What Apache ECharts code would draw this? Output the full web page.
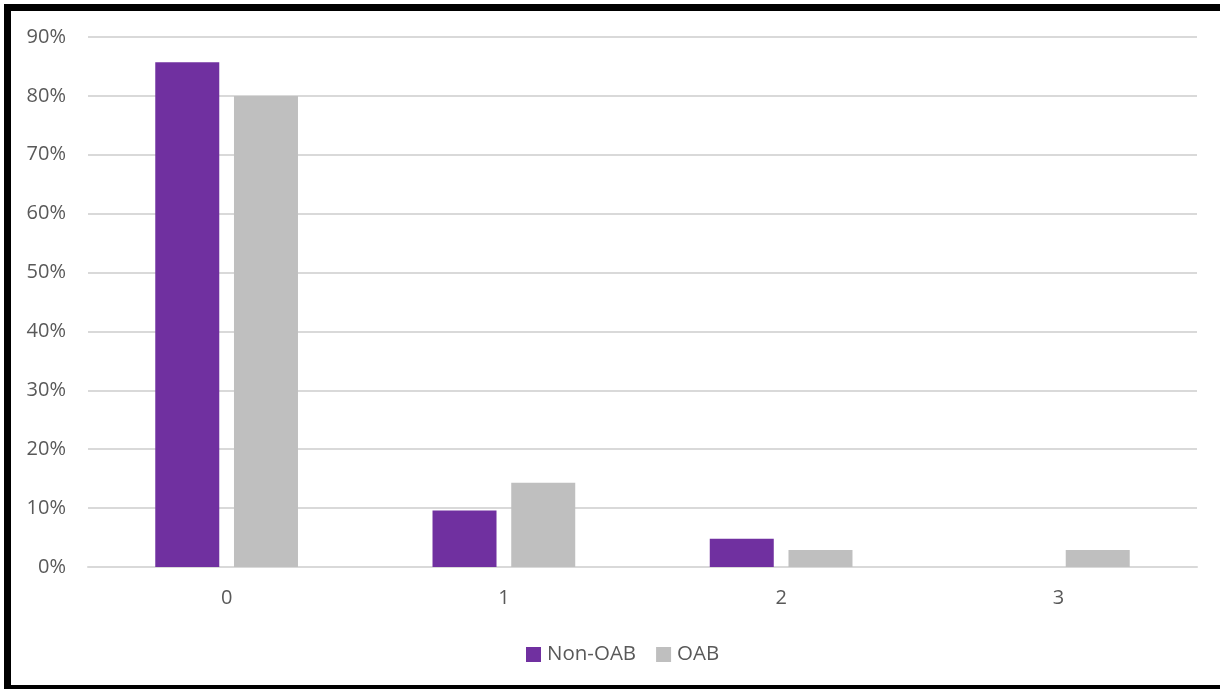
<!DOCTYPE html>
<html>
<head>
<meta charset="utf-8">
<script src="https://cdn.jsdelivr.net/npm/echarts@6/dist/echarts.min.js"></script>
<style>
  html, body { margin: 0; padding: 0; background: #fff; overflow: hidden; }
  #wrap { position: relative; width: 1220px; height: 689px; overflow: hidden; background: #fff; }
  #frame {
    position: absolute; left: 4px; top: 4px;
    width: 1240px; height: 688px;
    border: 7px solid #000; box-sizing: border-box;
  }
  #chart { position: absolute; left: 0; top: 0; width: 1220px; height: 689px; }
</style>
</head>
<body>
<div id="wrap">
  <div id="frame"></div>
  <div id="chart"></div>
</div>
<script>
// Number of episodes per group, share of patients (%)
const categories = ['0', '1', '2', '3'];
const nonOab = [85.7, 9.6, 4.8, 0];
const oab = [80.0, 14.3, 2.9, 2.9];
const seriesNames = ['Non-OAB', 'OAB'];

const textColor = '#595959';
const gridColor = '#d9d9d9';
const fontFamily = '"Open Sans", "Liberation Sans", sans-serif';

const chart = echarts.init(document.getElementById('chart'), null, { renderer: 'canvas' });

chart.setOption({
  animation: false,
  backgroundColor: 'transparent',
  grid: { left: 88, right: 23, top: 37, bottom: 122, containLabel: false },
  legend: {
    data: seriesNames,
    top: 639,
    left: 521,
    itemWidth: 15,
    itemHeight: 15,
    itemGap: 20,
    icon: 'rect',
    textStyle: { color: textColor, fontSize: 20.5, fontFamily: fontFamily, padding: [0, 0, 0, 1] }
  },
  xAxis: {
    type: 'category',
    data: categories,
    axisLine: { show: true, lineStyle: { color: gridColor, width: 2 } },
    axisTick: { show: false },
    axisLabel: { color: textColor, fontSize: 20, fontFamily: fontFamily, margin: 21 }
  },
  yAxis: {
    type: 'value',
    min: 0,
    max: 90,
    interval: 10,
    axisLine: { show: false },
    axisTick: { show: false },
    splitLine: { lineStyle: { color: gridColor, width: 2 } },
    axisLabel: {
      color: textColor, fontSize: 20, fontFamily: fontFamily, margin: 22,
      formatter: v => v + '%'
    }
  },
  series: [
    {
      name: seriesNames[0],
      type: 'bar',
      data: nonOab,
      barWidth: 64,
      barGap: '23%',
      itemStyle: { color: '#7030a0' }
    },
    {
      name: seriesNames[1],
      type: 'bar',
      data: oab,
      barWidth: 64,
      barGap: '23%',
      itemStyle: { color: '#bfbfbf' }
    }
  ]
});
</script>
</body>
</html>
